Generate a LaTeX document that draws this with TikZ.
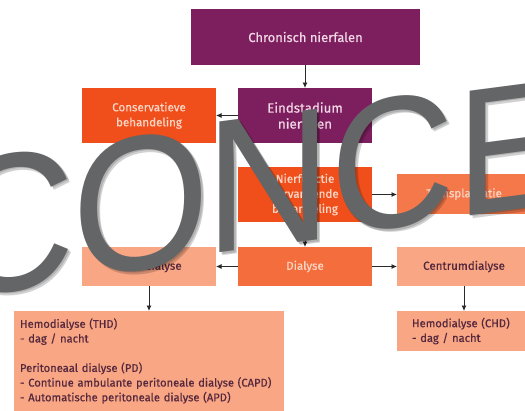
\documentclass[tikz,border=0pt]{standalone}
\usepackage{fontspec}
\setmainfont{Fira Sans}[FakeBold=0.5]
\newfontfamily\wmfont{Liberation Sans}
\usetikzlibrary{arrows.meta}
\definecolor{purp}{HTML}{7D1F5E}
\definecolor{ored}{HTML}{F04E1A}
\definecolor{omid}{HTML}{F36E3C}
\definecolor{otra}{HTML}{F5784A}
\definecolor{salm}{HTML}{F8A684}
\definecolor{txtlight}{HTML}{FAD6C6}
\definecolor{txtpink}{HTML}{F2D8E6}
\definecolor{txtdark}{HTML}{55283E}
\definecolor{wmgray}{HTML}{646567}
\definecolor{arr}{HTML}{2A2A2A}
\begin{document}
\begin{tikzpicture}[x=1pt,y=-1pt,
  every node/.style={inner sep=0pt, outer sep=0pt},
  flow/.style={rectangle, minimum width=134pt, anchor=north west, align=center,
    font=\fontsize{11.6}{15}\selectfont},
  tall/.style={flow, minimum height=55pt},
  low/.style={flow, minimum height=39pt},
  conn/.style={draw=arr, line width=0.8pt, -{Latex[length=5.5pt,width=5pt]}},
  wmletter/.style={font=\wmfont\fontsize{#1}{#1}\selectfont, xscale=0.92, yslant=0.12},
]
\useasboundingbox (0,0) rectangle (525,410);
\clip (0,0) rectangle (525,410);

\node[flow, fill=purp, text=txtpink, minimum width=229pt, minimum height=56pt,
  font=\fontsize{13}{16}\selectfont] (chron) at (191,9) {Chronisch nierfalen};
\node[tall, fill=purp, text=txtpink, font=\fontsize{13.3}{16}\selectfont] (eind) at (238,88) {Eindstadium\\nierfalen};
\node[tall, fill=ored, text=txtlight] (cons) at (82,88) {Conservatieve\\behandeling};
\node[tall, fill=ored, text=txtlight] (nier) at (238,167) {Nierfunctie\\vervangende\\behandeling};
\node[low, fill=otra, text=txtlight, minimum height=40pt] (trans) at (397,174) {Transplantatie};
\node[low, fill=omid, text=txtlight] (dial) at (238,247) {Dialyse};
\node[low, fill=salm, text=txtdark] (thuis) at (82,247) {Thuisdialyse};
\node[low, fill=salm, text=txtdark] (centr) at (397,247) {Centrumdialyse};
\node[fill=salm, text=txtdark, anchor=north west, minimum height=100pt, inner xsep=6pt,
  text width=258pt, align=left, font=\fontsize{11.2}{14.7}\selectfont] (home) at (14,311)
  {Hemodialyse (THD)\\- dag / nacht\\[14.7pt]Peritoneaal dialyse (PD)\\- Continue ambulante peritoneale dialyse (CAPD)\\- Automatische peritoneale dialyse (APD)};
\node[fill=salm, text=txtdark, anchor=north west, minimum height=40pt, inner xsep=15pt,
  text width=104pt, align=left, font=\fontsize{11.2}{14.7}\selectfont] (chd) at (397,311)
  {Hemodialyse (CHD)\\- dag / nacht};

\draw[conn] (chron.south -| eind.north) -- (eind.north);
\draw[conn] (eind) -- (cons);
\draw[conn] (eind) -- (nier);
\draw[conn] (nier.east) -- (nier.east -| trans.west);
\draw[conn] (nier) -- (dial);
\draw[conn] (dial) -- (thuis);
\draw[conn] (dial) -- (centr);
\draw[conn] (thuis.south) -- (thuis.south |- home.north);
\draw[conn] (centr) -- (chd);

\foreach \l/\cx/\cy/\fs/\nm in {C/10/223/197/wma, O/141.5/203/192/wmb, N/269/181/190/wmc, C/392.5/163.5/187/wmd, E/512/147.5/181/wme}{
  \begin{scope}[shift={(\cx+3,\cy+3)}]
    \node[wmletter=\fs, text=black, opacity=0.18] (\nm s) at (0,0) {\l};
  \end{scope}
  \begin{scope}[shift={(\cx+1.5,\cy+1.5)}]
    \node[wmletter=\fs, text=black, opacity=0.15] (\nm t) at (0,0) {\l};
  \end{scope}
  \begin{scope}[shift={(\cx,\cy)}]
    \node[wmletter=\fs, text=wmgray] (\nm) at (0,0) {\l};
  \end{scope}
}
\end{tikzpicture}
\end{document}
